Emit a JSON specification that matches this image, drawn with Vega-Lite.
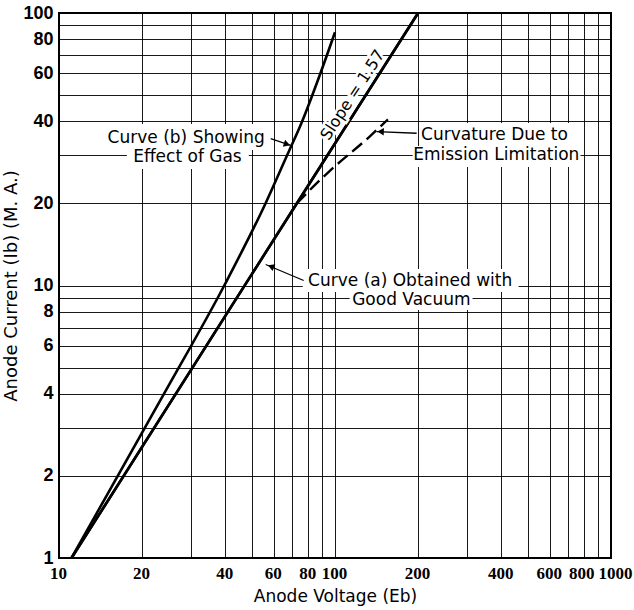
{
  "$schema": "https://vega.github.io/schema/vega-lite/v6.json",
  "width": 552,
  "height": 545,
  "autosize": {"type": "none"},
  "padding": {"left": 59, "top": 13, "right": 23, "bottom": 52},
  "background": "white",
  "config": {
    "view": {"stroke": "black", "strokeWidth": 2},
    "font": "Liberation Sans"
  },
  "datasets": {
    "curves": [
      {"curve": "a", "volts": 11.1, "ma": 1},
      {"curve": "a", "volts": 72.7, "ma": 20},
      {"curve": "a", "volts": 200, "ma": 100},
      {"curve": "b", "volts": 11.1, "ma": 1},
      {"curve": "b", "volts": 24, "ma": 4},
      {"curve": "b", "volts": 39.7, "ma": 10},
      {"curve": "b", "volts": 56, "ma": 20},
      {"curve": "b", "volts": 67, "ma": 30},
      {"curve": "b", "volts": 76, "ma": 40},
      {"curve": "b", "volts": 88.5, "ma": 60},
      {"curve": "b", "volts": 100, "ma": 85},
      {"curve": "c", "volts": 72.7, "ma": 20},
      {"curve": "c", "volts": 85, "ma": 23.5},
      {"curve": "c", "volts": 96, "ma": 26.4},
      {"curve": "c", "volts": 133.5, "ma": 35.2},
      {"curve": "c", "volts": 155.5, "ma": 40.7}
    ],
    "boxes": [
      {"box": "b1", "volts": 14.19, "volts2": 59.5, "ma": 39.15, "ma2": 31.42},
      {"box": "b2", "volts": 17.62, "volts2": 48.72, "ma": 31.96, "ma2": 26.77},
      {"box": "c1", "volts": 204.3, "volts2": 713, "ma": 39.48, "ma2": 32.24},
      {"box": "c2", "volts": 191.1, "volts2": 775, "ma": 32.5, "ma2": 27.22},
      {"box": "a1", "volts": 76.4, "volts2": 462.3, "ma": 11.5, "ma2": 9.46},
      {"box": "a2", "volts": 113, "volts2": 315, "ma": 9.63, "ma2": 8.13}
    ],
    "labels": [
      {"text": "Curve (b) Showing", "volts": 28.9, "ma": 34.8},
      {"text": "Effect of Gas", "volts": 29.2, "ma": 29.5},
      {"text": "Curvature Due to", "volts": 378.4, "ma": 35.7},
      {"text": "Emission Limitation", "volts": 384, "ma": 30.0},
      {"text": "Curve (a) Obtained with", "volts": 187.2, "ma": 10.39},
      {"text": "Good Vacuum", "volts": 189.1, "ma": 8.85}
    ],
    "slope": [
      {"text": "Slope = 1.57", "volts": 115.9, "ma": 50.0}
    ],
    "arrows": [
      {"arrow": "b", "volts": 58.5, "ma": 34.6, "volts2": 69.1, "ma2": 32.7},
      {"arrow": "c", "volts": 197.6, "ma": 36.2, "volts2": 141.5, "ma2": 36.7},
      {"arrow": "a", "volts": 77.0, "ma": 10.43, "volts2": 56.1, "ma2": 11.94}
    ],
    "heads": [
      {"arrow": "b", "volts": 67.0, "ma": 33.0},
      {"arrow": "c", "volts": 146.3, "ma": 36.7},
      {"arrow": "a", "volts": 58.6, "ma": 11.75}
    ]
  },
  "layer": [
    {
      "data": {"name": "curves"},
      "transform": [{"filter": "datum.curve === 'a'"}],
      "mark": {"type": "line", "stroke": "black", "strokeWidth": 2.6, "interpolate": "linear"},
      "encoding": {
        "x": {"field": "volts", "type": "quantitative", "scale": {"type": "log", "domain": [10, 1000], "nice": false},
          "axis": {
            "title": "Anode Voltage (Eb)",
            "values": [10, 20, 30, 40, 50, 60, 70, 80, 90, 100, 200, 300, 400, 500, 600, 700, 800, 900, 1000],
            "labelExpr": "indexof([10, 20, 40, 60, 80, 100, 200, 400, 600, 800, 1000], datum.value) >= 0 ? '' + datum.value : ''",
            "grid": true, "gridColor": "black", "gridWidth": 1, "gridOpacity": 0.9,
            "domain": false, "ticks": false,
            "labelFont": "Liberation Sans Narrow", "labelFontSize": 17, "labelFontWeight": "bold", "labelColor": "black",
            "labelOffset": {"condition": [{"test": "datum.value === 1000", "value": 4}, {"test": "datum.value === 800", "value": -3}], "value": -1},
            "labelPadding": 7, "labelOverlap": false, "labelFlush": false, "labelBound": false,
            "titleFont": "DejaVu Sans", "titleFontSize": 17, "titleFontWeight": "normal", "titleColor": "black", "titlePadding": 7
          }},
        "y": {"field": "ma", "type": "quantitative", "scale": {"type": "log", "domain": [1, 100], "nice": false},
          "axis": {
            "title": "Anode Current (Ib) (M. A.)",
            "values": [1, 2, 3, 4, 5, 6, 7, 8, 9, 10, 20, 30, 40, 50, 60, 70, 80, 90, 100],
            "labelExpr": "indexof([1, 2, 4, 6, 8, 10, 20, 40, 60, 80, 100], datum.value) >= 0 ? '' + datum.value : ''",
            "grid": true, "gridColor": "black", "gridWidth": 1, "gridOpacity": 0.9,
            "domain": false, "ticks": false,
            "labelFont": "Liberation Sans", "labelFontSize": 18, "labelFontWeight": "bold", "labelColor": "black",
            "labelPadding": 6, "labelOverlap": false, "labelFlush": false, "labelBound": false,
            "titleFont": "DejaVu Sans", "titleFontSize": 18, "titleFontWeight": "normal", "titleColor": "black", "titlePadding": 2
          }}
      }
    },
    {
      "data": {"name": "boxes"},
      "mark": {"type": "rect", "fill": "white"},
      "encoding": {
        "x": {"field": "volts", "type": "quantitative"},
        "x2": {"field": "volts2"},
        "y": {"field": "ma", "type": "quantitative"},
        "y2": {"field": "ma2"}
      }
    },
    {
      "data": {"name": "curves"},
      "transform": [{"filter": "datum.curve === 'a'"}],
      "mark": {"type": "line", "stroke": "black", "strokeWidth": 2.6, "interpolate": "linear"},
      "encoding": {
        "x": {"field": "volts", "type": "quantitative"},
        "y": {"field": "ma", "type": "quantitative"}
      }
    },
    {
      "data": {"name": "curves"},
      "transform": [{"filter": "datum.curve === 'b'"}],
      "mark": {"type": "line", "stroke": "black", "strokeWidth": 2.6, "interpolate": "monotone"},
      "encoding": {
        "x": {"field": "volts", "type": "quantitative"},
        "y": {"field": "ma", "type": "quantitative"}
      }
    },
    {
      "data": {"name": "curves"},
      "transform": [{"filter": "datum.curve === 'c'"}],
      "mark": {"type": "line", "stroke": "black", "strokeWidth": 2.4, "strokeDash": [13, 6], "interpolate": "monotone"},
      "encoding": {
        "x": {"field": "volts", "type": "quantitative"},
        "y": {"field": "ma", "type": "quantitative"}
      }
    },
    {
      "data": {"name": "arrows"},
      "mark": {"type": "rule", "stroke": "black", "strokeWidth": 1.3},
      "encoding": {
        "x": {"field": "volts", "type": "quantitative"},
        "y": {"field": "ma", "type": "quantitative"},
        "x2": {"field": "volts2"},
        "y2": {"field": "ma2"}
      }
    },
    {
      "data": {"name": "heads"},
      "transform": [{"filter": "datum.arrow === 'b'"}],
      "mark": {"type": "point", "shape": "triangle-right", "filled": true, "color": "black", "size": 55, "angle": 18, "opacity": 1},
      "encoding": {
        "x": {"field": "volts", "type": "quantitative"},
        "y": {"field": "ma", "type": "quantitative"}
      }
    },
    {
      "data": {"name": "heads"},
      "transform": [{"filter": "datum.arrow === 'c'"}],
      "mark": {"type": "point", "shape": "triangle-right", "filled": true, "color": "black", "size": 55, "angle": 182, "opacity": 1},
      "encoding": {
        "x": {"field": "volts", "type": "quantitative"},
        "y": {"field": "ma", "type": "quantitative"}
      }
    },
    {
      "data": {"name": "heads"},
      "transform": [{"filter": "datum.arrow === 'a'"}],
      "mark": {"type": "point", "shape": "triangle-right", "filled": true, "color": "black", "size": 55, "angle": 202, "opacity": 1},
      "encoding": {
        "x": {"field": "volts", "type": "quantitative"},
        "y": {"field": "ma", "type": "quantitative"}
      }
    },
    {
      "data": {"name": "labels"},
      "mark": {"type": "text", "font": "DejaVu Sans", "fontSize": 17, "color": "black", "align": "center", "baseline": "middle"},
      "encoding": {
        "x": {"field": "volts", "type": "quantitative"},
        "y": {"field": "ma", "type": "quantitative"},
        "text": {"field": "text"}
      }
    },
    {
      "data": {"name": "slope"},
      "mark": {"type": "text", "font": "DejaVu Sans", "fontSize": 16, "fill": "white", "stroke": "white", "strokeWidth": 5, "align": "center", "baseline": "middle", "angle": -57},
      "encoding": {
        "x": {"field": "volts", "type": "quantitative"},
        "y": {"field": "ma", "type": "quantitative"},
        "text": {"field": "text"}
      }
    },
    {
      "data": {"name": "slope"},
      "mark": {"type": "text", "font": "DejaVu Sans", "fontSize": 16, "color": "black", "align": "center", "baseline": "middle", "angle": -57},
      "encoding": {
        "x": {"field": "volts", "type": "quantitative"},
        "y": {"field": "ma", "type": "quantitative"},
        "text": {"field": "text"}
      }
    }
  ]
}
